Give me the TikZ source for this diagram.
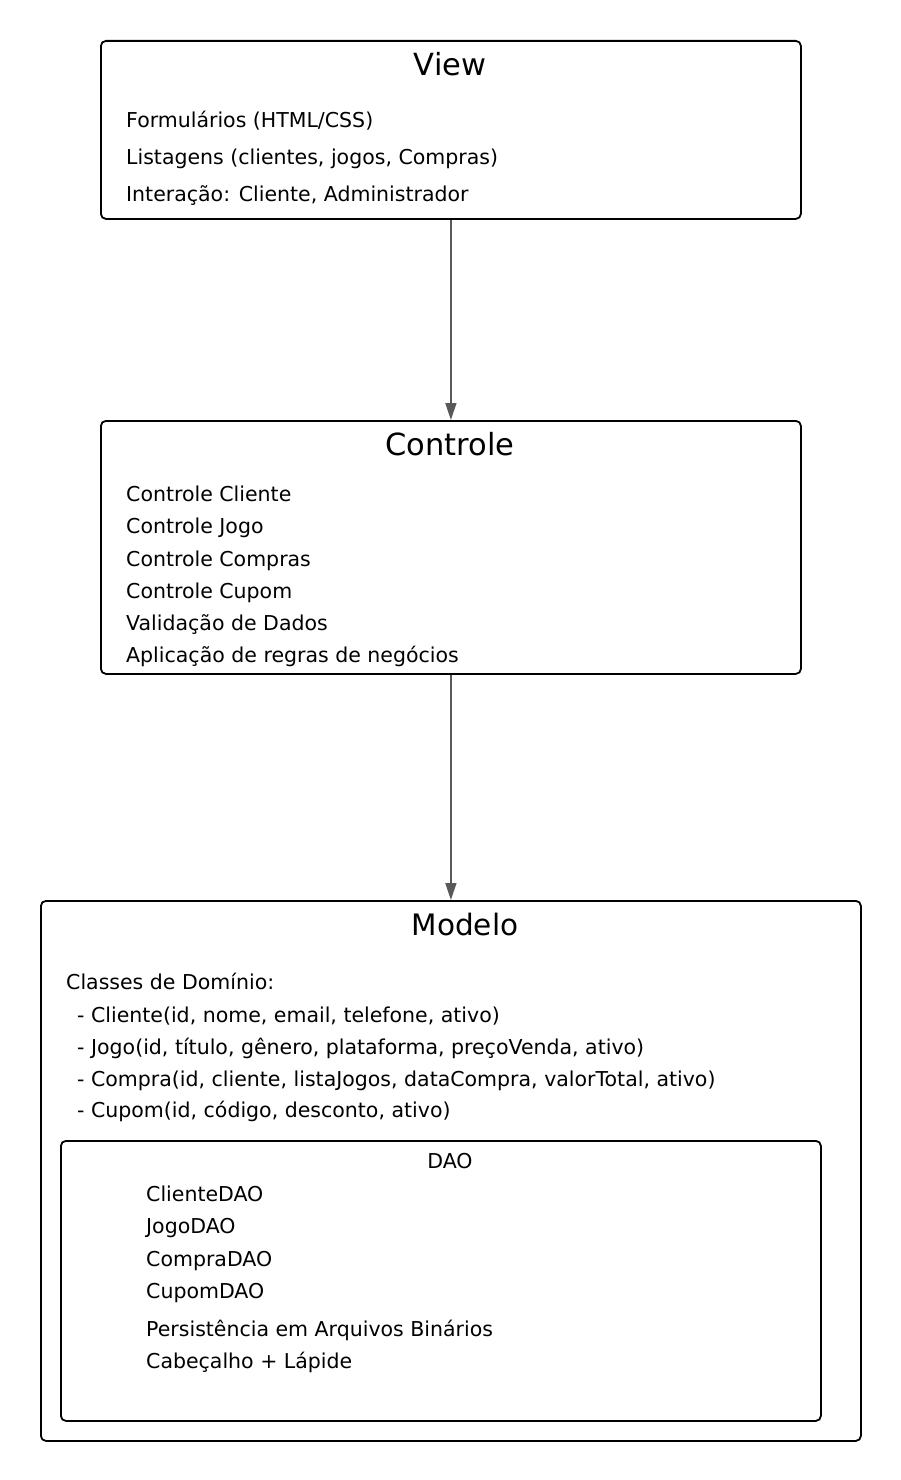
\documentclass[tikz,border=0pt]{standalone}
\usepackage{fontspec}
\setmainfont{DejaVu Sans}
\usetikzlibrary{arrows.meta}
\begin{document}
\begin{tikzpicture}[x=1pt,y=-1pt,
  box/.style={draw=black,line width=1.8pt,rounded corners=5pt,anchor=north west,inner sep=0pt},
  ttl/.style={font=\fontsize{30.5}{36}\selectfont,anchor=center,inner sep=0pt},
  dtl/.style={font=\fontsize{20.5}{24}\selectfont,anchor=center,inner sep=0pt},
  item/.style={font=\fontsize{20.5}{24}\selectfont,anchor=base west,inner sep=0pt},
  conn/.style={draw=black!65,line width=1.5pt,-{Triangle[length=17pt,width=11pt]}}]
\useasboundingbox (0,0) rectangle (900,1480);
% boxes
\node[box,minimum width=700pt,minimum height=178pt] (view) at (100,40) {};
\node[box,minimum width=700pt,minimum height=253pt] (ctrl) at (100,420) {};
\node[box,minimum width=820pt,minimum height=540pt] (modelo) at (40,900) {};
\node[box,minimum width=760pt,minimum height=280pt] (dao) at (60,1140) {};
% View
\node[ttl] (viewT) at (450,64) {View};
\node[item] (v1) at (126,127.5) {Formulários (HTML/CSS)};
\node[item] (v2) at (126,164.5) {Listagens (clientes, jogos, Compras)};
\node[item] (v3) at (126,201.5) {Interação: Cliente, Administrador};
% Controle
\node[ttl] (ctrlT) at (450,444) {Controle};
\node[item] (c1) at (126,501.5) {Controle Cliente};
\node[item] (c2) at (126,533.5) {Controle Jogo};
\node[item] (c3) at (126,566.5) {Controle Compras};
\node[item] (c4) at (126,598.5) {Controle Cupom};
\node[item] (c5) at (126,630.5) {Validação de Dados};
\node[item] (c6) at (126,662.5) {Aplicação de regras de negócios};
% Modelo
\node[ttl,font=\fontsize{29.5}{35}\selectfont] (modT) at (465,924) {Modelo};
\node[item] (m1) at (66,989.5) {Classes de Domínio:};
\node[item] (m2) at (77,1022.5) {- Cliente(id, nome, email, telefone, ativo)};
\node[item] (m3) at (77,1054.5) {- Jogo(id, título, gênero, plataforma, preçoVenda, ativo)};
\node[item] (m4) at (77,1086.5) {- Compra(id, cliente, listaJogos, dataCompra, valorTotal, ativo)};
\node[item] (m5) at (77,1117.5) {- Cupom(id, código, desconto, ativo)};
% DAO
\node[dtl] (daoT) at (450,1161) {DAO};
\node[item] (d1) at (146,1201.5) {ClienteDAO};
\node[item] (d2) at (146,1233.5) {JogoDAO};
\node[item] (d3) at (146,1266.5) {CompraDAO};
\node[item] (d4) at (146,1298.5) {CupomDAO};
\node[item] (d5) at (146,1336.5) {Persistência em Arquivos Binários};
\node[item] (d6) at (146,1368.5) {Cabeçalho + Lápide};
% connectors
\draw[conn] (view.south) -- (ctrl.north);
\draw[conn] (ctrl.south) -- (modelo.north);
\end{tikzpicture}
\end{document}
